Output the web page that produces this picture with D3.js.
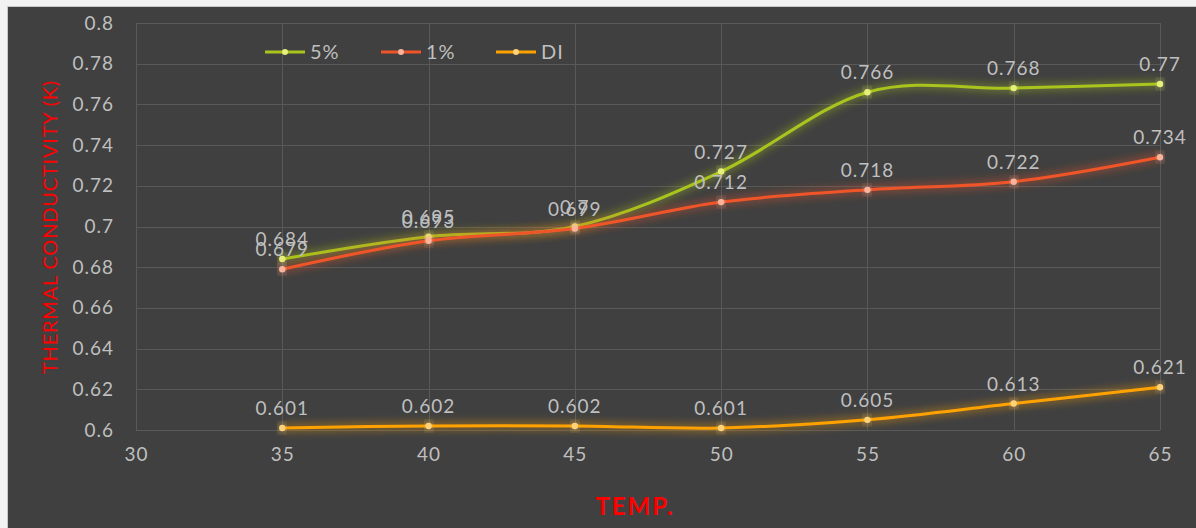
<!DOCTYPE html>
<html><head><meta charset="utf-8">
<script src="https://cdn.jsdelivr.net/npm/d3@7"></script>
<style>
body{margin:0;background:#ffffff;}
svg{display:block;}
text{font-family:Lato,"Open Sans",sans-serif;}
</style></head><body>
<svg id="c" width="1196" height="528"></svg>
<script>
const temps = [35, 40, 45, 50, 55, 60, 65];
const series5 = [0.684, 0.695, 0.7, 0.727, 0.766, 0.768, 0.77];
const series1 = [0.679, 0.693, 0.699, 0.712, 0.718, 0.722, 0.734];
const seriesDI = [0.601, 0.602, 0.602, 0.601, 0.605, 0.613, 0.621];
const seriesNames = ["5%", "1%", "DI"];
const xTicks = [30, 35, 40, 45, 50, 55, 60, 65];
const yTicks = [0.6, 0.62, 0.64, 0.66, 0.68, 0.7, 0.72, 0.74, 0.76, 0.78, 0.8];

const colors = {"5%": "#a9c41d", "1%": "#f0552a", "DI": "#ffa200"};
const markerFill = {"5%": "#e6f07a", "1%": "#fbb49c", "DI": "#ffd27a"};
const data = [
  {name: seriesNames[0], values: series5},
  {name: seriesNames[1], values: series1},
  {name: seriesNames[2], values: seriesDI}
];

const svg = d3.select("#c");
svg.append("rect").attr("x",0).attr("y",0).attr("width",1196).attr("height",528).attr("fill","#f2f2f2");
svg.append("rect").attr("x",7).attr("y",6).attr("width",1189).attr("height",522).attr("fill","#404040");
svg.append("line").attr("x1",7).attr("x2",1196).attr("y1",6.5).attr("y2",6.5).attr("stroke","#c8c8c8");
svg.append("line").attr("x1",7.5).attr("x2",7.5).attr("y1",6).attr("y2",528).attr("stroke","#c8c8c8");

const defs = svg.append("defs");
data.forEach((d,i)=>{
  const f = defs.append("filter").attr("id","glow"+i).attr("x","-20%").attr("y","-50%").attr("width","140%").attr("height","200%");
  f.append("feGaussianBlur").attr("in","SourceGraphic").attr("stdDeviation",5).attr("result","b");
  const m = f.append("feMerge");
  m.append("feMergeNode").attr("in","b");
  m.append("feMergeNode").attr("in","SourceGraphic");
});

const x = d3.scaleLinear().domain([30, 65]).range([136, 1160]);
const y = d3.scaleLinear().domain([0.6, 0.8]).range([430, 23]);

const grid = svg.append("g");
grid.selectAll(".hg").data(yTicks).join("line")
  .attr("x1",x(30)).attr("x2",x(65)).attr("y1",d=>Math.round(y(d))+0.5).attr("y2",d=>Math.round(y(d))+0.5)
  .attr("stroke","#595959").attr("stroke-width",1);
grid.selectAll(".vg").data(xTicks).join("line")
  .attr("y1",y(0.6)).attr("y2",y(0.8)).attr("x1",d=>Math.round(x(d))+0.5).attr("x2",d=>Math.round(x(d))+0.5)
  .attr("stroke","#595959").attr("stroke-width",1);

const txt = sel => sel.attr("fill","#bfbfbf").style("font-size","19px").style("letter-spacing","1px");

const yAxis = svg.append("g").attr("transform",`translate(${x(30)},0)`)
  .call(d3.axisLeft(y).tickValues(yTicks).tickSize(0).tickPadding(22).tickFormat(d=>String(+d.toFixed(2))));
yAxis.select(".domain").remove();
yAxis.selectAll("text").call(txt);

const xAxis = svg.append("g").attr("transform",`translate(0,${y(0.6)})`)
  .call(d3.axisBottom(x).tickValues(xTicks).tickSize(0).tickPadding(18).tickFormat(d3.format("d")));
xAxis.select(".domain").remove();
xAxis.selectAll("text").call(txt);

const line = d3.line().x((d,i)=>x(temps[i])).y(d=>y(d)).curve(d3.curveCardinal.tension(0));

data.forEach((s,si)=>{
  const g = svg.append("g");
  g.append("path").datum(s.values).attr("d",line).attr("fill","none")
    .attr("stroke",colors[s.name]).attr("stroke-width",3).attr("filter",`url(#glow${si})`);
  g.selectAll("circle").data(s.values).join("circle")
    .attr("cx",(d,i)=>x(temps[i])).attr("cy",d=>y(d)).attr("r",3.2)
    .attr("fill",markerFill[s.name]).attr("filter",`url(#glow${si})`);
});
data.forEach(s=>{
  svg.append("g").selectAll("text").data(s.values).join("text")
    .attr("x",(d,i)=>x(temps[i])).attr("y",d=>y(d)-13)
    .attr("text-anchor","middle").call(txt)
    .text(d=>String(d));
});

const legendX = [265, 381, 496];
const lg = svg.append("g");
data.forEach((s,i)=>{
  lg.append("line").attr("x1",legendX[i]).attr("x2",legendX[i]+40).attr("y1",52).attr("y2",52)
    .attr("stroke",colors[s.name]).attr("stroke-width",3);
  lg.append("circle").attr("cx",legendX[i]+20).attr("cy",52).attr("r",3).attr("fill",markerFill[s.name]);
  lg.append("text").attr("x",legendX[i]+45).attr("y",59).call(txt).style("font-size","20px").text(s.name);
});

svg.append("text").attr("transform","translate(57,227) rotate(-90)").attr("text-anchor","middle")
  .attr("fill","#ff0000").style("font-size","20px").style("letter-spacing","0.8px").text("THERMAL CONDUCTIVITY (K)");
svg.append("text").attr("x",635).attr("y",515).attr("text-anchor","middle")
  .attr("fill","#ff0000").style("font-size","24px").style("font-weight","bold").style("letter-spacing","2px").text("TEMP.");
</script>
</body></html>
